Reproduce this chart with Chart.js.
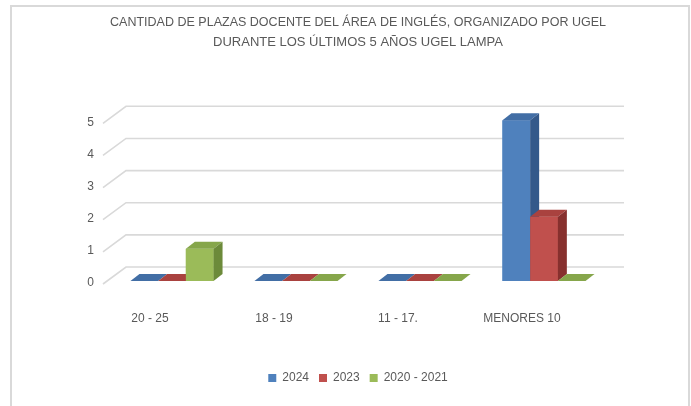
<!DOCTYPE html>
<html>
<head>
<meta charset="utf-8">
<script src="https://cdn.jsdelivr.net/npm/chart.js@4"></script>
<style>
  body { margin: 0; background: #fff; }
  #wrap { position: relative; width: 691px; height: 406px; overflow: hidden; }
  #frame { position: absolute; left: 10px; top: 5px; width: 676px; height: 420px; border: 2px solid #d9d9d9; pointer-events: none; }
</style>
</head>
<body>
<div id="wrap">
  <canvas id="chart" width="691" height="406"></canvas>
  <div id="frame"></div>
</div>
<script>
const categories = ['20 - 25', '18 - 19', '11 - 17.', 'MENORES 10'];
const seriesNames = ['2024', '2023', '2020 - 2021'];
const values2024 = [0, 0, 0, 5];
const values2023 = [0, 0, 0, 2];
const values2020 = [1, 0, 0, 0];
const yTicks = [0, 1, 2, 3, 4, 5];

const frontColors = ['#4f81bd', '#c0504d', '#9bbb59'];
const topColors = ['#426ea5', '#a9423f', '#86a64b'];
const sideColors = ['#34598a', '#87302e', '#6c8a3a'];

// bar depth offset
const DX = 9;
const DY = 7;

// 3d grid: back wall and floor-edge diagonals
const grid3d = {
    id: 'grid3d',
    beforeDatasetsDraw(chart) {
        const ctx = chart.ctx;
        const y = chart.scales.y;
        const area = chart.chartArea;
        ctx.save();
        ctx.strokeStyle = '#d9d9d9';
        ctx.lineWidth = 1.6;
        for (let v of yTicks) {
            const py = y.getPixelForValue(v);
            ctx.beginPath();
            ctx.moveTo(area.left - 7, py + 3);
            ctx.lineTo(area.left + 16, py - 14);
            ctx.lineTo(area.right + 18, py - 14);
            ctx.stroke();
        }
        ctx.restore();
    }
};

// redraw each bar as a box (front, top, side), first series first
const bars3d = {
    id: 'bars3d',
    afterDatasetsDraw(chart) {
        const ctx = chart.ctx;
        ctx.save();
        for (let i = 0; i < chart.data.datasets.length; i++) {
            const meta = chart.getDatasetMeta(i);
            for (let bar of meta.data) {
                const p = bar.getProps(['x', 'y', 'base', 'width'], true);
                const l = p.x - p.width / 2;
                const r = p.x + p.width / 2;
                // front
                ctx.fillStyle = frontColors[i];
                ctx.fillRect(l, p.y, p.width, p.base - p.y);
                // top
                ctx.fillStyle = topColors[i];
                ctx.beginPath();
                ctx.moveTo(l, p.y);
                ctx.lineTo(l + DX, p.y - DY);
                ctx.lineTo(r + DX, p.y - DY);
                ctx.lineTo(r, p.y);
                ctx.closePath();
                ctx.fill();
                // side
                if (p.base - p.y > 0.5) {
                    ctx.fillStyle = sideColors[i];
                    ctx.beginPath();
                    ctx.moveTo(r, p.y);
                    ctx.lineTo(r + DX, p.y - DY);
                    ctx.lineTo(r + DX, p.base - DY);
                    ctx.lineTo(r, p.base);
                    ctx.closePath();
                    ctx.fill();
                }
            }
        }
        ctx.restore();
    }
};

const textColor = '#595959';
const font = "'Liberation Sans', sans-serif";

new Chart(document.getElementById('chart'), {
    type: 'bar',
    data: {
        labels: categories,
        datasets: [
            { label: seriesNames[0], data: values2024, backgroundColor: frontColors[0] },
            { label: seriesNames[1], data: values2023, backgroundColor: frontColors[1] },
            { label: seriesNames[2], data: values2020, backgroundColor: frontColors[2] }
        ]
    },
    options: {
        responsive: false,
        animation: false,
        events: [],
        layout: { padding: { left: 0, right: 85, top: 0, bottom: 12 } },
        datasets: { bar: { categoryPercentage: 0.67, barPercentage: 1 } },
        plugins: {
            title: {
                display: true,
                fullSize: false,
                text: ['CANTIDAD DE PLAZAS DOCENTE DEL ÁREA DE INGLÉS, ORGANIZADO POR UGEL',
                       'DURANTE LOS ÚLTIMOS 5 AÑOS UGEL LAMPA'],
                color: textColor,
                font: { family: font, size: 13, weight: 'normal', lineHeight: 1.55 },
                padding: { top: 12, bottom: 68 }
            },
            legend: {
                position: 'bottom',
                fullSize: false,
                labels: {
                    color: textColor,
                    font: { family: font, size: 12 },
                    boxWidth: 8,
                    boxHeight: 8,
                    padding: 10
                }
            },
            tooltip: { enabled: false }
        },
        scales: {
            x: {
                grid: { display: false, drawTicks: false },
                border: { display: false },
                ticks: { color: textColor, font: { family: font, size: 12 }, padding: 30, labelOffset: -22, maxRotation: 0 },
                afterFit: (scale) => { scale.height = 81; }
            },
            y: {
                min: 0,
                max: 5,
                grid: { display: false, drawTicks: false },
                border: { display: false },
                ticks: { stepSize: 1, color: textColor, font: { family: font, size: 12 }, padding: 16, labelOffset: 2 },
                afterFit: (scale) => { scale.width = 110; }
            }
        }
    },
    plugins: [grid3d, bars3d]
});
</script>
</body>
</html>
